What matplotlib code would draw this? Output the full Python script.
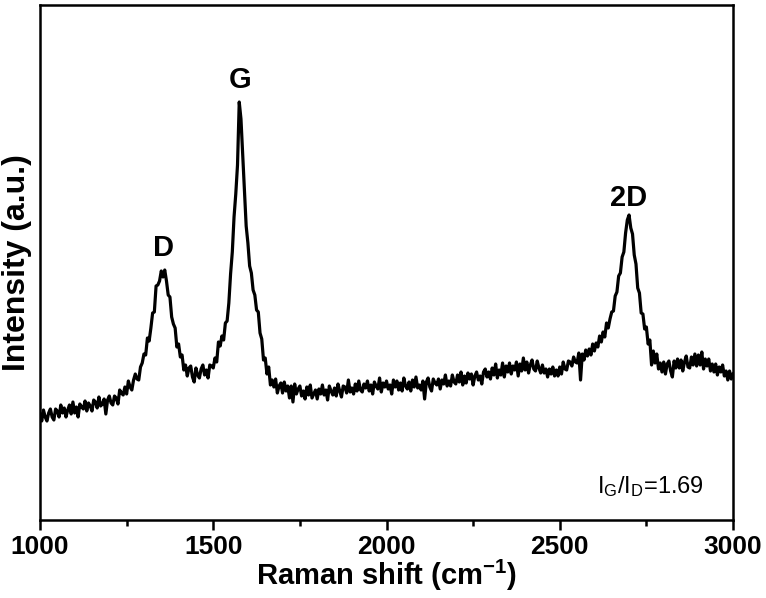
import numpy as np
import matplotlib
matplotlib.use("Agg")
import matplotlib.pyplot as plt

plt.rcParams['font.family'] = ['Liberation Sans', 'DejaVu Sans']

# Raman shift (cm-1), 1000..3000 step 5
raman_shift = np.arange(1000, 3001, 5)

# Intensity (a.u.)
intensity = [
    106, 99, 110, 103, 99, 107, 111, 103, 100, 111,
    109, 103, 115, 107, 112, 103, 110, 115, 106, 118,
    107, 113, 103, 116, 113, 111, 119, 109, 117, 114,
    109, 120, 118, 112, 123, 114, 116, 121, 106, 120,
    124, 117, 115, 124, 122, 116, 130, 127, 125, 133,
    126, 139, 133, 130, 140, 146, 141, 140, 153, 157,
    166, 165, 182, 179, 192, 207, 208, 234, 235, 239,
    249, 243, 250, 239, 225, 223, 203, 196, 192, 173,
    176, 163, 165, 150, 155, 144, 152, 154, 143, 138,
    152, 145, 142, 151, 155, 145, 150, 142, 155, 154,
    152, 162, 158, 178, 174, 184, 180, 197, 199, 217,
    246, 268, 303, 326, 355, 418, 401, 366, 333, 294,
    277, 254, 247, 230, 225, 210, 208, 187, 181, 160,
    162, 146, 153, 135, 140, 133, 141, 127, 134, 137,
    127, 138, 129, 134, 122, 134, 118, 136, 126, 131,
    134, 124, 129, 121, 133, 125, 135, 122, 126, 130,
    121, 131, 126, 135, 125, 130, 120, 134, 129, 125,
    132, 124, 136, 129, 123, 134, 133, 127, 140, 128,
    132, 126, 136, 129, 139, 130, 128, 136, 132, 139,
    129, 135, 126, 138, 134, 131, 142, 128, 137, 133,
    139, 131, 135, 126, 140, 133, 139, 130, 137, 129,
    142, 134, 131, 138, 129, 140, 133, 143, 132, 135,
    130, 139, 121, 138, 142, 133, 129, 141, 137, 135,
    141, 131, 140, 136, 145, 134, 139, 134, 145, 138,
    136, 145, 138, 148, 135, 144, 137, 147, 141, 146,
    135, 144, 148, 140, 144, 136, 148, 151, 143, 148,
    141, 152, 145, 156, 142, 150, 145, 157, 143, 154,
    148, 157, 146, 154, 150, 158, 144, 156, 149, 162,
    150, 158, 147, 155, 160, 151, 149, 159, 152, 147,
    155, 147, 151, 143, 151, 146, 153, 144, 150, 144,
    153, 146, 158, 151, 150, 159, 158, 154, 163, 158,
    157, 167, 140, 166, 160, 170, 164, 171, 165, 176,
    169, 177, 173, 184, 178, 188, 183, 197, 192, 201,
    208, 209, 224, 228, 244, 247, 263, 268, 287, 300,
    305, 292, 286, 265, 256, 232, 227, 207, 206, 191,
    193, 176, 180, 155, 169, 157, 166, 151, 157, 148,
    158, 146, 156, 159, 149, 143, 159, 152, 161, 152,
    160, 149, 158, 164, 153, 152, 163, 155, 166, 154,
    165, 155, 168, 151, 161, 154, 161, 149, 156, 148,
    156, 145, 153, 148, 155, 144, 149, 140, 149, 141, 146,
]

peak_labels = ['D', 'G', '2D']
peak_pos = [1355, 1577, 2700]
peak_label_y = [272, 440, 322]

x_ticks = [1000, 1500, 2000, 2500, 3000]
x_minor = [1250, 1750, 2250, 2750]

fig = plt.figure(figsize=(7.66, 5.98), dpi=100)
ax = fig.add_axes([40/766, 1-520/598, (733-40)/766, (520-5)/598])

ax.plot(raman_shift, intensity, color='black', lw=2.3)

ax.set_xlim(1000, 3000)
ax.set_ylim(0, 515)
ax.set_xticks(x_ticks)
ax.set_xticks(x_minor, minor=True)
ax.set_xticklabels([str(t) for t in x_ticks], fontsize=19, fontweight='bold')
ax.set_yticks([])
ax.tick_params(axis='x', which='major', direction='out', length=7, width=1.8, pad=4)
ax.tick_params(axis='x', which='minor', direction='out', length=4, width=1.8)
for s in ax.spines.values():
    s.set_linewidth(1.8)

ax.set_xlabel(r'Raman shift (cm$^{\mathregular{-1}}$)', fontsize=21, fontweight='bold', labelpad=-1)
ax.set_ylabel('Intensity (a.u.)', fontsize=23, fontweight='bold', labelpad=6)

for lab, xp, yp in zip(peak_labels, peak_pos, peak_label_y):
    ax.text(xp, yp, lab, fontsize=21, fontweight='bold', ha='center', va='center')

ax.text(2763, 33, r'$\mathregular{I_G/I_D}$=1.69', fontsize=17, ha='center', va='center')

fig.savefig('out.png', dpi=100)
